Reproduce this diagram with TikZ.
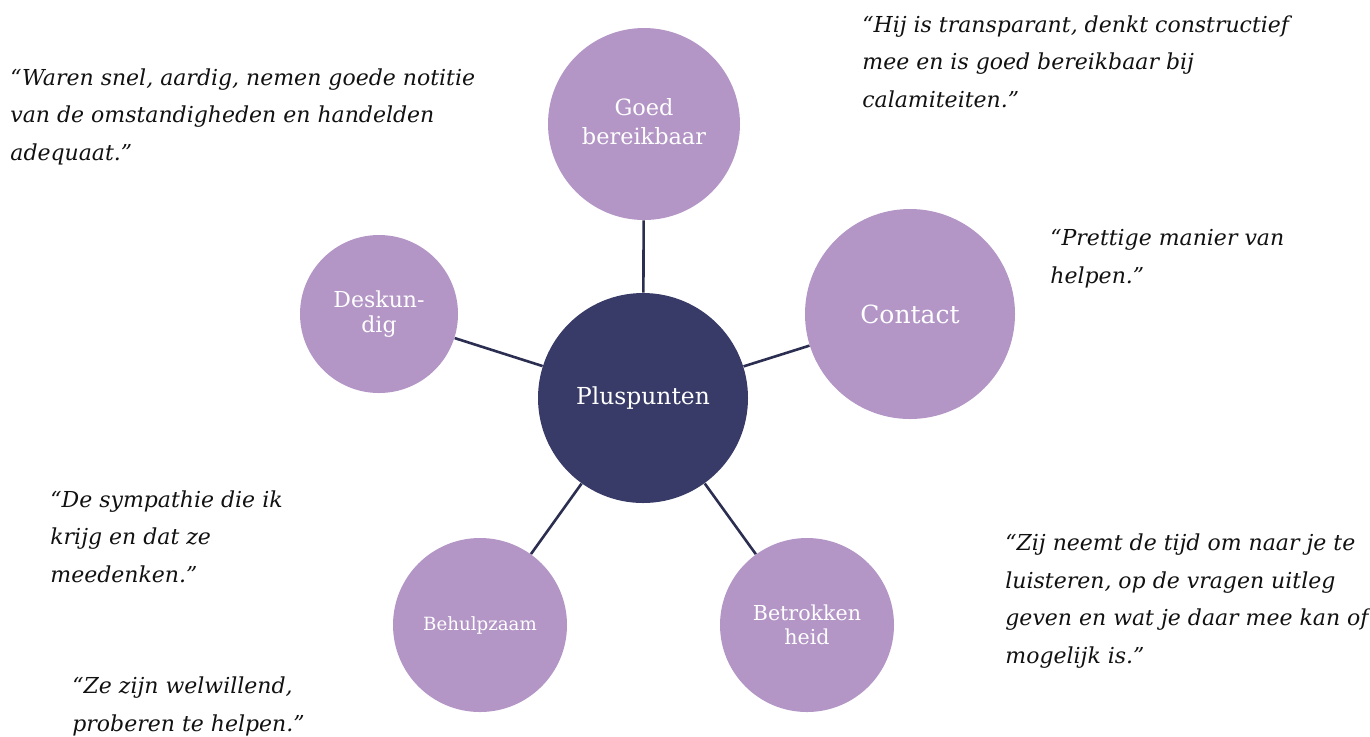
\documentclass[tikz,border=0pt]{standalone}
\usepackage{fontspec}
\setmainfont{DejaVu Serif}
\definecolor{lilac}{HTML}{B395C6}
\definecolor{navy}{HTML}{383B67}
\definecolor{linenavy}{HTML}{2B2E50}
\definecolor{quotecol}{HTML}{111111}
\tikzset{
  bubble/.style={circle, fill=lilac, text=white, inner sep=0pt, align=center},
  hub/.style={circle, fill=navy, text=white, inner sep=0pt, align=center},
  conn/.style={draw=linenavy, line width=1.3pt},
  quote/.style={anchor=base west, inner sep=0pt, align=left, text=quotecol,
    font=\itshape\fontsize{11}{18.7}\selectfont}
}
\begin{document}
\begin{tikzpicture}[x=0.5pt,y=-0.5pt]
\useasboundingbox (0,0) rectangle (1370,736);
\node[hub, minimum size=105pt, font=\fontsize{11.7}{13}\selectfont] (c) at (643,398) {Pluspunten};
\node[bubble, minimum size=96pt, font=\fontsize{11.2}{14.5}\selectfont] (g) at (644,124) {\raisebox{2pt}{\begin{tabular}{@{}c@{}}Goed\\bereikbaar\end{tabular}}};
\node[bubble, minimum size=105pt, font=\fontsize{12.5}{15}\selectfont] (k) at (910,314) {Contact};
\node[bubble, minimum size=79pt, font=\fontsize{11}{12.5}\selectfont] (d) at (379,314) {Deskun‐\\dig};
\node[bubble, minimum size=87pt, font=\fontsize{9.1}{11}\selectfont] (b) at (480,625) {Behulpzaam};
\node[bubble, minimum size=87pt, font=\fontsize{10.3}{12}\selectfont] (t) at (807,625) {Betrokken\\heid};
\draw[conn] (c) -- (g);
\draw[conn] (c) -- (k);
\draw[conn] (c) -- (d);
\draw[conn] (c) -- (b);
\draw[conn] (c) -- (t);
\node[quote] (q1) at (10,160) {“Waren snel, aardig, nemen goede notitie\\van de omstandigheden en handelden\\adequaat.”};
\node[quote] (q2) at (862,107) {“Hij is transparant, denkt constructief\\mee en is goed bereikbaar bij\\calamiteiten.”};
\node[quote] (q3) at (1050,283) {“Prettige manier van\\helpen.”};
\node[quote] (q4) at (50,582) {“De sympathie die ik\\krijg en dat ze\\meedenken.”};
\node[quote] (q5) at (72,731) {“Ze zijn welwillend,\\proberen te helpen.”};
\node[quote] (q6) at (1005,663) {“Zij neemt de tijd om naar je te\\luisteren, op de vragen uitleg\\geven en wat je daar mee kan of\\mogelijk is.”};
\end{tikzpicture}
\end{document}
